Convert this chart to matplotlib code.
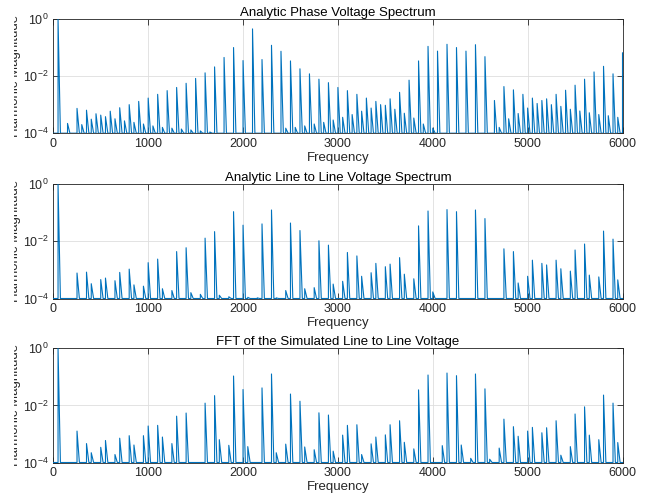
import matplotlib
matplotlib.use("Agg")
import matplotlib.pyplot as plt
from matplotlib.transforms import Bbox, TransformedBbox

plt.rcParams['font.family'] = ['Liberation Sans', 'DejaVu Sans']
plt.rcParams['mathtext.fontset'] = 'custom'
plt.rcParams['mathtext.rm'] = 'Liberation Sans'
plt.rcParams['mathtext.it'] = 'Liberation Sans:italic'

# harmonic frequencies (Hz) and magnitudes
phase_freq = [50, 150, 250, 300, 350, 400, 450, 500, 550, 600, 650, 700, 750, 800, 850, 900, 950, 1000,
              1050, 1100, 1150, 1200, 1250, 1300, 1350, 1400, 1450, 1500, 1550, 1600, 1650, 1700, 1800,
              1900, 2000, 2100, 2200, 2300, 2400, 2450, 2500, 2550, 2600, 2650, 2700, 2750, 2800, 2850,
              2900, 2950, 3000, 3050, 3100, 3150, 3200, 3250, 3300, 3350, 3400, 3450, 3500, 3550, 3600,
              3650, 3700, 3750, 3800, 3850, 3900, 3950, 4000, 4050, 4150, 4250, 4350, 4450, 4550, 4650,
              4700, 4750, 4800, 4850, 4900, 4950, 5000, 5050, 5100, 5150, 5200, 5250, 5300, 5350, 5400,
              5450, 5500, 5550, 5600, 5650, 5700, 5750, 5800, 5850, 5900, 5950, 6000]
phase_mag = [1.0, 2.2e-4, 7.4e-4, 2.0e-4, 6.4e-4, 3.1e-4, 4.8e-4, 4.3e-4, 3.8e-4, 5.9e-4, 3.2e-4, 7.8e-4,
             2.7e-4, 1.0e-3, 2.4e-4, 1.3e-3, 2.1e-4, 1.7e-3, 1.8e-4, 2.3e-3, 1.6e-4, 3.1e-3, 1.5e-4,
             4.0e-3, 1.4e-4, 5.6e-3, 1.3e-4, 8.3e-3, 1.2e-4, 0.013, 1.1e-4, 0.021, 0.045, 0.10, 0.035,
             0.45, 0.038, 0.12, 0.074, 1.5e-4, 0.034, 1.6e-4, 0.018, 1.8e-4, 0.012, 2.1e-4, 7.8e-3,
             2.4e-4, 5.9e-3, 2.9e-4, 4.0e-3, 3.6e-4, 3.1e-3, 4.5e-4, 2.3e-3, 5.9e-4, 1.7e-3, 7.6e-4,
             1.3e-3, 1.0e-3, 9.5e-4, 1.6e-3, 6.9e-4, 2.7e-3, 5.0e-4, 7.2e-3, 3.4e-4, 0.034, 2.1e-4,
             0.11, 1.5e-4, 0.075, 0.13, 0.10, 0.075, 0.126, 0.048, 1.4e-3, 1.6e-4, 4.3e-3, 3.2e-4,
             3.3e-3, 4.9e-4, 2.3e-3, 7.6e-4, 1.7e-3, 1.1e-3, 1.4e-3, 1.6e-3, 1.0e-3, 2.3e-3, 8.7e-4,
             3.2e-3, 6.9e-4, 4.8e-3, 6.0e-4, 7.8e-3, 5.2e-4, 0.014, 4.5e-4, 0.022, 4.1e-4, 0.012,
             3.6e-4, 0.066]

ll_freq = [50, 250, 350, 400, 500, 550, 650, 700, 800, 850, 950, 1000, 1100, 1150, 1250, 1300, 1400,
           1450, 1550, 1600, 1700, 1750, 1850, 1900, 2000, 2050, 2150, 2200, 2300, 2350, 2450, 2500,
           2600, 2650, 2750, 2800, 2900, 2950, 3050, 3100, 3200, 3250, 3350, 3400, 3500, 3550, 3650,
           3700, 3800, 3850, 3950, 4000, 4150, 4250, 4450, 4550, 4750, 4850, 4900, 5000, 5050, 5150,
           5200, 5300, 5350, 5450, 5500, 5600, 5650, 5750, 5800, 5900, 5950]
ll_mag = [1.0, 7.8e-4, 8.4e-4, 3.3e-4, 4.6e-4, 5.2e-4, 4.2e-4, 8.2e-4, 1.07e-3, 3.0e-4, 2.7e-4, 1.8e-3,
          2.4e-3, 2.2e-4, 1.9e-4, 4.4e-3, 6.0e-3, 1.6e-4, 1.4e-4, 0.013, 0.022, 1.3e-4, 1.15e-4, 0.11,
          0.037, 1.1e-4, 1.05e-4, 0.041, 0.126, 1.05e-4, 1.9e-4, 0.044, 0.024, 2.2e-4, 2.4e-4, 0.0105,
          7.4e-3, 3.2e-4, 4.0e-4, 4.1e-3, 3.1e-3, 6.0e-4, 8.0e-4, 1.7e-3, 1.3e-3, 1.6e-3, 2.7e-3,
          7.1e-4, 4.9e-4, 0.035, 0.116, 1.7e-4, 0.13, 0.11, 0.126, 0.063, 5.5e-3, 4.4e-3, 3.5e-4,
          6.0e-4, 2.2e-3, 1.7e-3, 1.5e-3, 2.2e-3, 1.1e-3, 9.1e-4, 5.0e-3, 8.1e-3, 6.6e-4, 5.7e-4,
          0.023, 0.012, 4.5e-4]

fft_freq = [50, 250, 350, 400, 500, 550, 650, 700, 800, 850, 950, 1000, 1100, 1150, 1250, 1300, 1400,
            1600, 1700, 1750, 1850, 1900, 2000, 2050, 2200, 2300, 2350, 2450, 2500, 2600, 2650, 2750,
            2800, 2900, 2950, 3050, 3100, 3200, 3250, 3350, 3400, 3500, 3550, 3650, 3700, 3800, 3850,
            3950, 4100, 4150, 4250, 4300, 4400, 4450, 4550, 4600, 4700, 4750, 4850, 4900, 5000, 5050,
            5150, 5200, 5300, 5350, 5450, 5500, 5600, 5650, 5750, 5800, 5900, 5950]
fft_mag = [1.0, 1.26e-3, 4.6e-4, 2.2e-4, 3.4e-4, 5.9e-4, 1.9e-4, 7.1e-4, 8.7e-4, 4.1e-4, 8.7e-4, 1.9e-3,
           2.0e-3, 7.8e-4, 4.6e-4, 4.2e-3, 5.4e-3, 0.012, 0.022, 6.3e-4, 4.0e-4, 0.107, 0.036, 3.6e-4,
           0.041, 0.126, 2.2e-4, 4.4e-4, 0.025, 0.014, 3.5e-4, 2.8e-4, 5.5e-3, 4.6e-3, 2.5e-4, 9.1e-4,
           2.0e-3, 2.1e-3, 1.9e-4, 4.5e-4, 7.8e-4, 9.3e-4, 2.1e-3, 2.9e-3, 5.1e-4, 3.0e-4, 0.035,
           0.116, 3.9e-4, 0.136, 0.11, 4.1e-4, 1.4e-4, 0.126, 0.038, 1.3e-4, 3.2e-4, 3.3e-3, 1.8e-3,
           8.3e-4, 1.26e-3, 1.7e-3, 1.1e-3, 1.65e-3, 2.9e-3, 1.8e-4, 3.6e-4, 5.0e-3, 8.9e-3, 9.1e-4,
           6.3e-4, 0.023, 0.012, 5.0e-4]

titles = ['Analytic Phase Voltage Spectrum',
          'Analytic Line to Line Voltage Spectrum',
          'FFT of the Simulated Line to Line Voltage']
xticks = [0, 1000, 2000, 3000, 4000, 5000, 6000]
yticks = [1e-4, 1e-2, 1e0]
ytick_labels = [r'$10^{-4}$', r'$10^{-2}$', r'$10^{0}$']
floor = 1e-4
bin_width = 25


def spectrum_line(freq, mag):
    # each harmonic drawn as a narrow spike rising from the floor
    x = [0]
    y = [floor]
    for f, m in zip(freq, mag):
        x += [f, f, f + bin_width]
        y += [floor, m, floor]
    x.append(6000)
    y.append(floor)
    return x, y


fig = plt.figure(figsize=(6.62, 5.0), dpi=100)
W, H = 662.0, 500.0
left, right = 53.3, 622.5
tops = [19.0, 184.3, 348.3]
ax_h = 114.2
blue = '#0072BD'
dark = '#262626'

for i, (fq, mg) in enumerate([(phase_freq, phase_mag), (ll_freq, ll_mag), (fft_freq, fft_mag)]):
    ax = fig.add_axes([left / W, 1 - (tops[i] + ax_h) / H, (right - left) / W, ax_h / H])
    x, y = spectrum_line(fq, mg)
    ax.plot(x, y, color=blue, lw=0.8, zorder=3)
    ax.set_yscale('log')
    ax.set_xlim(0, 6000)
    ax.set_ylim(1e-4, 1)
    ax.set_xticks(xticks)
    ax.set_yticks(yticks)
    ax.set_yticklabels(ytick_labels)
    ax.yaxis.set_minor_locator(plt.NullLocator())
    ax.grid(True, color='#dedede', lw=0.6, zorder=0)
    ax.set_axisbelow(True)
    ax.tick_params(direction='in', top=True, right=True, length=4, width=0.6,
                   color=dark, labelcolor=dark, labelsize=9, pad=3.5)
    for s in ax.spines.values():
        s.set_color(dark)
        s.set_linewidth(0.6)
    ax.set_title(titles[i], fontsize=9.5, color='black', pad=2.5)
    ax.set_xlabel('Frequency', fontsize=9.5, color=dark, labelpad=1.5)
    lab = ax.set_ylabel('Harmonic Magnitude', fontsize=9.5, color=dark)
    ax.yaxis.set_label_coords((21 - left) / (right - left), 0.5)
    # the label is cut off at the left, as in the original figure
    lab.set_clip_box(TransformedBbox(Bbox([[13.5 / W, 0], [1, 1]]), fig.transFigure))
    lab.set_clip_on(True)

fig.savefig('out.png', dpi=100)
